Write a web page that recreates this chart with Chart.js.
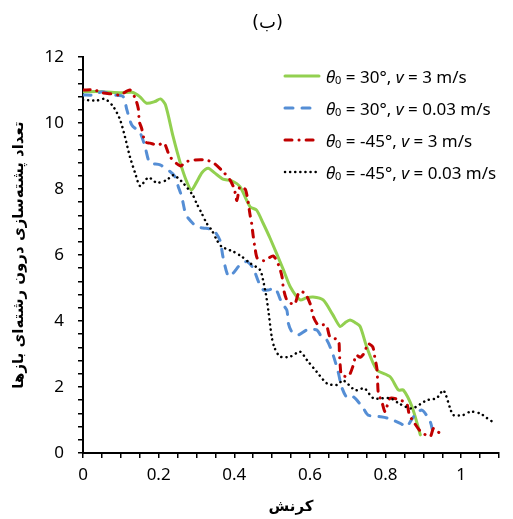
<!DOCTYPE html>
<html>
<head>
<meta charset="utf-8">
<script src="https://cdn.jsdelivr.net/npm/chart.js@4.4.1/dist/chart.umd.min.js"></script>
<style>
  html, body { margin: 0; padding: 0; background: #fff; }
  #wrap { position: relative; width: 513px; height: 519px; overflow: hidden; }
  #chart { position: absolute; left: 0; top: 0; }
  #panel { position: absolute; left: 252px; top: 11px; font: 18px 'DejaVu Sans', sans-serif; color: #000; }
  #legend { position: absolute; left: 283px; top: 60px; font: 17px 'Noto Sans', sans-serif; color: #000; }
  #legend .row { height: 32px; display: flex; align-items: center; white-space: nowrap; }
  #legend svg { width: 38px; height: 8px; margin-right: 5px; flex: none; }
  #legend sub { font-size: 11px; position: relative; top: 1px; vertical-align: baseline; line-height: 0; }
</style>
</head>
<body>
<div id="wrap">
  <canvas id="chart" width="513" height="519"></canvas>
  <div id="panel">(ب)</div>
  <div id="legend"></div>
</div>
<script>
// strain vs. number of intra-strand base stacking
const strainGreen = [0, 0.05, 0.1, 0.13, 0.15, 0.168, 0.19, 0.205, 0.218, 0.238, 0.257, 0.275, 0.287, 0.3, 0.315, 0.331, 0.349, 0.37, 0.393, 0.415, 0.442, 0.459, 0.476, 0.495, 0.53, 0.548, 0.574, 0.59, 0.608, 0.635, 0.66, 0.68, 0.693, 0.706, 0.72, 0.733, 0.75, 0.777, 0.812, 0.834, 0.847, 0.87, 0.892];
const countGreen = [10.95, 10.95, 10.92, 10.93, 10.8, 10.6, 10.65, 10.73, 10.55, 9.6, 8.8, 8.2, 7.97, 8.2, 8.5, 8.63, 8.48, 8.3, 8.25, 8.07, 7.46, 7.36, 6.97, 6.5, 5.55, 5.04, 4.64, 4.7, 4.73, 4.64, 4.2, 3.83, 3.95, 4.03, 3.95, 3.83, 3.22, 2.52, 2.31, 1.91, 1.91, 1.4, 0.55];

const strainBlue = [0, 0.03, 0.05, 0.08, 0.106, 0.116, 0.129, 0.151, 0.164, 0.173, 0.18, 0.204, 0.23, 0.243, 0.252, 0.261, 0.27, 0.278, 0.3, 0.317, 0.344, 0.362, 0.37, 0.384, 0.397, 0.415, 0.433, 0.45, 0.464, 0.477, 0.49, 0.508, 0.526, 0.539, 0.543, 0.552, 0.57, 0.592, 0.618, 0.631, 0.645, 0.662, 0.675, 0.684, 0.698, 0.715, 0.741, 0.754, 0.786, 0.808, 0.839, 0.856, 0.874, 0.896, 0.918, 0.925];
const countBlue = [10.85, 10.85, 10.95, 10.85, 10.8, 10.4, 9.94, 9.7, 9.28, 8.88, 8.78, 8.73, 8.53, 8.38, 8.07, 7.77, 7.3, 7.12, 6.86, 6.82, 6.76, 6.45, 5.95, 5.36, 5.45, 5.7, 5.8, 5.6, 5.19, 4.94, 4.94, 4.99, 4.54, 4.33, 3.93, 3.68, 3.58, 3.73, 3.73, 3.52, 3.42, 2.95, 2.44, 2.0, 1.68, 1.7, 1.36, 1.15, 1.1, 1.05, 0.9, 0.8, 1.1, 1.3, 0.95, 0.65];

const strainRed = [0, 0.03, 0.05, 0.076, 0.098, 0.124, 0.138, 0.146, 0.149, 0.155, 0.164, 0.177, 0.2, 0.21, 0.217, 0.23, 0.257, 0.274, 0.296, 0.323, 0.344, 0.37, 0.389, 0.4, 0.407, 0.415, 0.43, 0.442, 0.446, 0.45, 0.455, 0.461, 0.479, 0.503, 0.517, 0.526, 0.53, 0.539, 0.559, 0.572, 0.587, 0.602, 0.609, 0.622, 0.643, 0.653, 0.675, 0.678, 0.68, 0.684, 0.702, 0.715, 0.722, 0.733, 0.746, 0.752, 0.766, 0.772, 0.777, 0.779, 0.781, 0.79, 0.799, 0.812, 0.839, 0.856, 0.863, 0.874, 0.893, 0.918, 0.927, 0.943];
const countRed = [11.0, 11.0, 10.92, 10.88, 10.85, 11.0, 10.75, 10.45, 10.04, 9.84, 9.43, 9.39, 9.33, 9.4, 9.35, 8.98, 8.7, 8.83, 8.88, 8.88, 8.8, 8.53, 8.27, 8.0, 7.65, 8.07, 7.97, 7.2, 6.95, 6.58, 6.2, 5.9, 5.83, 5.97, 5.7, 5.36, 4.99, 4.64, 4.5, 4.89, 4.84, 4.48, 4.13, 3.88, 3.88, 3.52, 3.42, 3.04, 2.67, 2.36, 2.33, 2.67, 2.97, 2.9, 3.07, 3.32, 3.22, 2.87, 2.57, 2.19, 1.81, 1.56, 1.25, 1.66, 1.6, 1.5, 1.15, 0.95, 0.65, 0.5, 0.75, 0.6];

const strainBlack = [0, 0.036, 0.058, 0.08, 0.098, 0.111, 0.124, 0.138, 0.151, 0.173, 0.195, 0.221, 0.239, 0.265, 0.291, 0.3, 0.314, 0.327, 0.34, 0.354, 0.367, 0.398, 0.42, 0.442, 0.468, 0.477, 0.484, 0.49, 0.499, 0.506, 0.521, 0.548, 0.574, 0.592, 0.618, 0.645, 0.671, 0.688, 0.72, 0.744, 0.768, 0.812, 0.839, 0.87, 0.909, 0.935, 0.953, 0.971, 0.979, 1.005, 1.024, 1.05, 1.068, 1.085];
const countBlack = [10.7, 10.68, 10.73, 10.5, 10.1, 9.58, 8.98, 8.48, 8.09, 8.35, 8.19, 8.27, 8.42, 8.18, 7.8, 7.57, 7.26, 6.96, 6.76, 6.45, 6.25, 6.1, 5.95, 5.75, 5.55, 5.19, 4.79, 4.33, 3.52, 3.2, 2.92, 2.92, 3.07, 2.82, 2.46, 2.11, 2.06, 2.2, 1.9, 1.96, 1.66, 1.66, 1.48, 1.35, 1.6, 1.66, 1.9, 1.35, 1.15, 1.15, 1.25, 1.2, 1.06, 0.93];

// legend text pieces
const thetaValues = [30, 30, -45, -45];
const speedValues = ['3', '0.03', '3', '0.03'];

// axis ticks (labelled ones) and minor steps
const xTickLabels = [0, 0.2, 0.4, 0.6, 0.8, 1];
const yTickLabels = [0, 2, 4, 6, 8, 10, 12];
const xMinorStep = 0.05;
const yMinorStep = 0.4;

const styles = [
    { color: '#92D050', width: 3, dash: [], cap: 'round' },
    { color: '#558ED5', width: 3, dash: [8, 9], cap: 'round' },
    { color: '#C00000', width: 3, dash: [7, 7, 0.1, 7], cap: 'round' },
    { color: '#000000', width: 2.5, dash: [0.1, 5], cap: 'round' }
];

const seriesData = [
    [strainGreen, countGreen],
    [strainBlue, countBlue],
    [strainRed, countRed],
    [strainBlack, countBlack]
];

function toPoints(xs, ys) {
    return xs.map((x, i) => ({ x: x, y: ys[i] }));
}

function tickList(min, max, step) {
    const out = [];
    for (let i = 0; min + i * step <= max + 1e-9; i++) {
        out.push({ value: +(min + i * step).toFixed(4) });
    }
    return out;
}

function isLabelled(list, v) {
    return list.some(t => Math.abs(t - v) < 1e-6);
}

const datasets = seriesData.map((s, i) => ({
    data: toPoints(s[0], s[1]),
    borderColor: styles[i].color,
    borderWidth: styles[i].width,
    borderDash: styles[i].dash,
    borderCapStyle: styles[i].cap,
    pointRadius: 0,
    tension: 0.25,
    fill: false,
    order: 4 - i
}));

const axisFont = { family: "'Noto Sans', sans-serif", size: 17 };

new Chart(document.getElementById('chart'), {
    type: 'line',
    data: { datasets: datasets },
    options: {
        responsive: false,
        animation: false,
        layout: { padding: { top: 57, right: 14, left: 0, bottom: 0 } },
        plugins: {
            legend: { display: false },
            tooltip: { enabled: false }
        },
        scales: {
            x: {
                type: 'linear',
                min: 0,
                max: 1.1,
                afterBuildTicks: axis => { axis.ticks = tickList(0, 1.1, xMinorStep); },
                afterFit: axis => { axis.height = 66; },
                ticks: {
                    autoSkip: false,
                    maxRotation: 0,
                    padding: 7,
                    color: '#000',
                    font: axisFont,
                    callback: v => isLabelled(xTickLabels, v) ? String(+v.toFixed(2)) : ''
                },
                grid: { display: true, drawOnChartArea: false, drawTicks: true, tickLength: 5, color: '#000', lineWidth: 1.5 },
                border: { display: true, color: '#000', width: 2 },
                title: {
                    display: true,
                    text: 'کرنش',
                    color: '#000',
                    font: { family: "'DejaVu Sans', sans-serif", size: 15, weight: 'bold' },
                    padding: { top: 0, bottom: 3 }
                }
            },
            y: {
                type: 'linear',
                min: 0,
                max: 12,
                afterBuildTicks: axis => { axis.ticks = tickList(0, 12, yMinorStep); },
                afterFit: axis => { axis.width = 83; },
                ticks: {
                    autoSkip: false,
                    padding: 14,
                    color: '#000',
                    font: axisFont,
                    callback: v => isLabelled(yTickLabels, v) ? String(Math.round(v)) : ''
                },
                grid: { display: true, drawOnChartArea: false, drawTicks: true, tickLength: 5, color: '#000', lineWidth: 1.5 },
                border: { display: true, color: '#000', width: 2 },
                title: {
                    display: true,
                    text: 'تعداد پشته‌سازی درون رشته‌ای بازها',
                    color: '#000',
                    font: { family: "'DejaVu Sans', sans-serif", size: 15, weight: 'bold' },
                    padding: { top: 10, bottom: 0 }
                }
            }
        }
    }
});

// legend with subscripted theta, drawn as html
const legend = document.getElementById('legend');
styles.forEach((st, i) => {
    const row = document.createElement('div');
    row.className = 'row';
    const dash = st.dash.length ? st.dash.join(' ') : 'none';
    row.innerHTML =
        `<svg viewBox="0 0 38 8"><line x1="2" y1="4" x2="36" y2="4" stroke="${st.color}" stroke-width="${st.width}" stroke-dasharray="${dash}" stroke-linecap="${st.cap}"/></svg>` +
        `<span><i>θ</i><sub>0</sub> = ${thetaValues[i]}°, <i>v</i> = ${speedValues[i]} m/s</span>`;
    legend.appendChild(row);
});
</script>
</body>
</html>
